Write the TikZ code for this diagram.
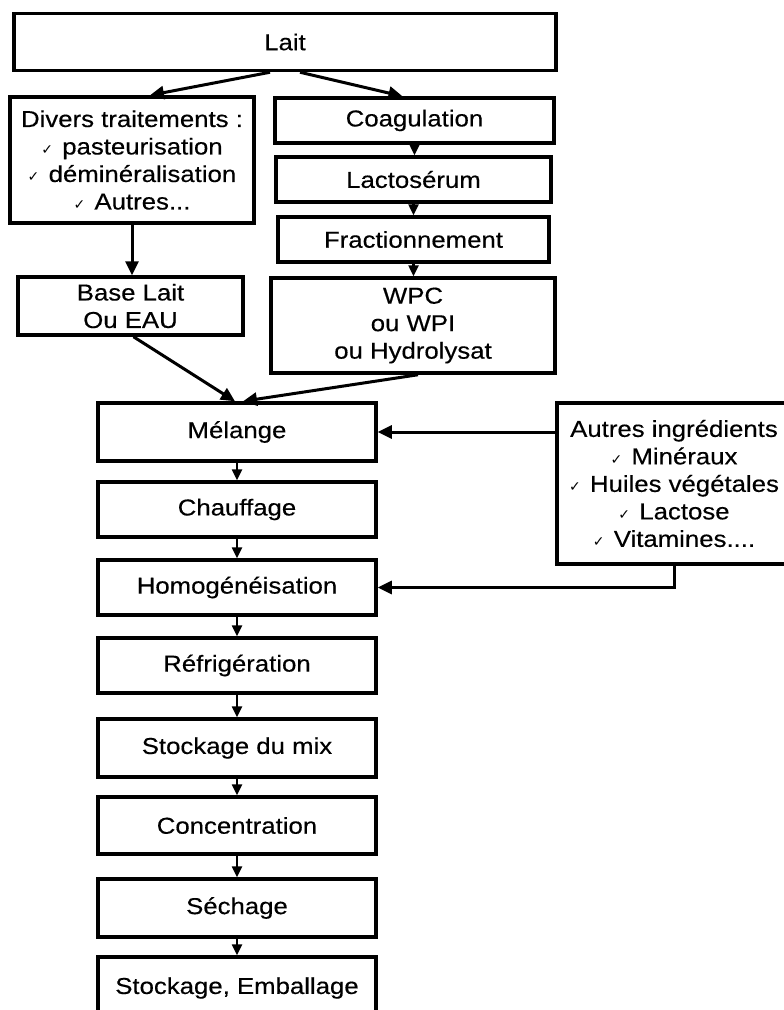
\documentclass[tikz,border=0pt]{standalone}
\usepackage{fontspec}
\setmainfont{Liberation Sans}[FakeStretch=1.12,FakeBold=0.35]
\newfontfamily\dv{DejaVu Sans}
\usetikzlibrary{arrows.meta,calc}
\newcommand{\ck}{{\dv\fontsize{14}{14}\selectfont ✓}\hspace{0.4em}}
\begin{document}
\begin{tikzpicture}[x=1pt,y=-1pt,
  box/.style={draw,line width=3.5pt,inner sep=0pt,align=center,
    font=\fontsize{23}{27.5}\selectfont},
  mainbox/.style={box,minimum width=278pt},
  arr/.style={line width=3pt,-{Triangle[length=14pt,width=13pt]}},
  sarr/.style={line width=2.4pt,-{Triangle[length=11pt,width=10pt]}}]
\useasboundingbox[fill=white] (0,0) rectangle (784,1010);
\node[box,minimum width=542pt,minimum height=57pt] (lait) at (285,42) {Lait};
\node[box,minimum width=244pt,minimum height=126pt] (divers) at (132,160)
  {Divers traitements :\\ \ck pasteurisation\\ \ck déminéralisation\\ \ck Autres...};
\node[box,minimum width=279pt,minimum height=45pt] (coag) at (414.5,120.5) {Coagulation};
\node[box,minimum width=275pt,minimum height=45pt] (lacto) at (413.5,179.5) {Lactosérum};
\node[box,minimum width=271pt,minimum height=45pt] (frac) at (413.5,239.5) {Fractionnement};
\node[box,minimum width=225pt,minimum height=58pt] (base) at (130.5,306) {Base Lait\\Ou EAU};
\node[box,minimum width=284pt,minimum height=95pt] (wpc) at (413,325.5) {WPC\\ou WPI\\ou Hydrolysat};
\node[mainbox,minimum height=58pt] (mel) at (237,432) {Mélange};
\node[mainbox,minimum height=55pt] (chauf) at (237,509.5) {Chauffage};
\node[mainbox,minimum height=55pt] (homog) at (237,587.5) {Homogénéisation};
\node[mainbox,minimum height=55pt] (refrig) at (237,665.5) {Réfrigération};
\node[mainbox,minimum height=58pt] (stock) at (237,748) {Stockage du mix};
\node[mainbox,minimum height=57pt] (conc) at (237,825.5) {Concentration};
\node[mainbox,minimum height=58pt] (sech) at (237,908) {Séchage};
\node[mainbox,minimum height=62pt] (emb) at (237,988) {Stockage, Emballage};
\node[box,minimum width=234pt,minimum height=161pt] (autres) at (674,483.5)
  {Autres ingrédients\\ \ck Minéraux\\ \ck Huiles végétales\\ \ck Lactose\\ \ck Vitamines....};
% connectors
\draw[arr] ($(lait.south)+(-15,0)$) -- ($(divers.north)+(18,0)$);
\draw[arr] ($(lait.south)+(15,0)$) -- ($(coag.north)+(-12,0)$);
\draw[arr] (divers.south) -- (divers.south |- base.north);
\draw[sarr] (coag.south) -- (coag.south |- lacto.north);
\draw[sarr] (lacto.south) -- (lacto.south |- frac.north);
\draw[sarr] (frac.south) -- (frac.south |- wpc.north);
\draw[arr] ($(base.south)+(3,0)$) -- ($(mel.north)+(-2,0)$);
\draw[arr] ($(wpc.south)+(5,0)$) -- ($(mel.north)+(6,0)$);
\draw[arr] (mel.east -| autres.west) -- (mel.east);
\draw[arr] (autres.south) -- (autres.south |- homog.east) -- (homog.east);
\draw[sarr] (mel) -- (chauf);
\draw[sarr] (chauf) -- (homog);
\draw[sarr] (homog) -- (refrig);
\draw[sarr] (refrig) -- (stock);
\draw[sarr] (stock) -- (conc);
\draw[sarr] (conc) -- (sech);
\draw[sarr] (sech) -- (emb);
\end{tikzpicture}
\end{document}
